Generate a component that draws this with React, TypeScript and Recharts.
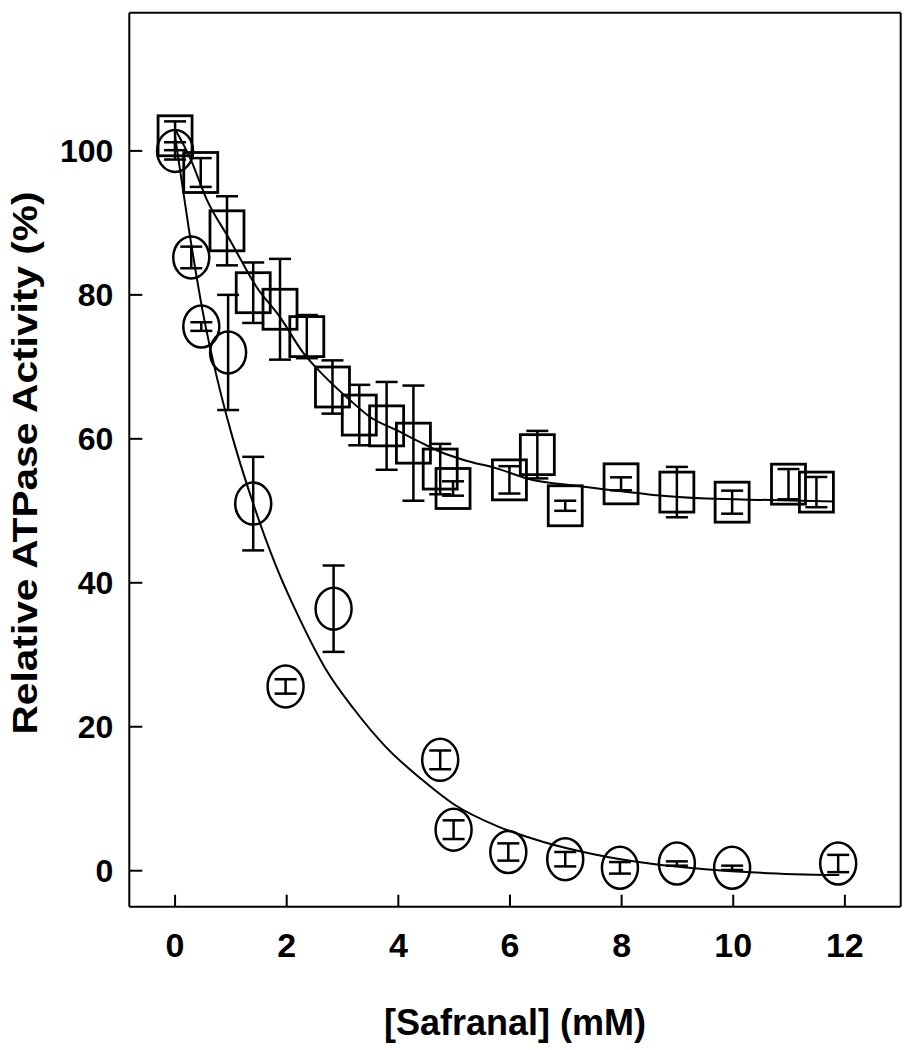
import React from 'react';
import { ComposedChart, XAxis, YAxis, Line, Scatter, ErrorBar } from 'recharts';

// Circles (lower curve)
const circleX = [0, 0.29, 0.47, 0.95, 1.4, 1.98, 2.84, 4.75, 4.99, 5.97, 6.99, 7.97, 8.99, 9.98, 11.88];
const circleY = [100, 85.2, 75.6, 72.0, 51.0, 25.6, 36.4, 15.4, 5.7, 2.6, 1.6, 0.4, 1.0, 0.4, 1.0];
const circleErr = [1.2, 1.5, 0.6, 8, 6.5, 1, 6, 1.3, 1.3, 1.2, 1, 0.8, 0.3, 0.3, 1.2];

// Squares (upper curve)
const squareX = [0, 0.46, 0.93, 1.4, 1.88, 2.36, 2.82, 3.3, 3.79, 4.27, 4.75, 4.98, 5.99, 6.49, 6.99, 7.99, 8.99, 9.98, 10.99, 11.49];
const squareY = [102.1, 97.0, 88.9, 80.3, 78.0, 74.2, 67.2, 63.3, 61.8, 59.4, 55.8, 53.1, 54.3, 57.8, 50.7, 53.75, 52.6, 51.2, 53.7, 52.6];
const squareErr = [2, 2, 4.8, 4.2, 7, 3, 3.7, 4.2, 6.1, 8, 3.5, 1, 1.9, 3.3, 0.7, 0.9, 3.5, 1.6, 2.1, 2.1];

// Fitted curves
const lowCurveX = [0, 0.25, 0.5, 0.75, 1, 1.4, 1.8, 2.2, 2.7, 3.2, 3.8, 4.4, 5, 5.8, 6.6, 7.5, 8.5, 9.5, 10.5, 11.9];
const lowCurveY = [102, 89, 77.5, 68.5, 61, 51, 42.5, 35.5, 28, 22.5, 17, 12.8, 9.2, 6.1, 4.0, 2.3, 1.0, 0.2, -0.3, -0.6];
const highCurveX = [0, 0.27, 0.57, 0.985, 1.46, 1.88, 2.3, 2.7, 3.13, 3.5, 3.97, 4.4, 4.75, 5.2, 5.76, 6.3, 7.25, 8.0, 8.57, 9.52, 10.66, 11.8];
const highCurveY = [103, 99, 93.2, 87.6, 81.1, 76.9, 71.9, 68.5, 65.4, 63, 61.2, 59.5, 58.2, 57, 55.9, 54.5, 53.4, 52.7, 52.2, 51.7, 51.5, 51.3];

const xTicks = [0, 2, 4, 6, 8, 10, 12];
const yTicks = [0, 20, 40, 60, 80, 100];
const xDomain = [-0.82, 13];
const yDomain = [-5, 119.2];

const circles = circleX.map((x, i) => ({ x, y: circleY[i], err: circleErr[i] }));
const squares = squareX.map((x, i) => ({ x, y: squareY[i], err: squareErr[i] }));
const lowCurve = lowCurveX.map((x, i) => ({ x, y: lowCurveY[i] }));
const highCurve = highCurveX.map((x, i) => ({ x, y: highCurveY[i] }));

const FONT = "'Liberation Sans', Arial, Helvetica, sans-serif";

const PL = 129.3, PR = 900.7, PT = 12.7, PB = 906.7;
const W = 906, H = 1050;

const XTick = (props: any) => {
  const { x, y, payload } = props;
  return (
    <text x={x} y={y} dy="0.71em" textAnchor="middle" fontFamily={FONT} fontWeight="bold" fontSize={34} fill="#000">
      {payload.value}
    </text>
  );
};

const CircleShape = (props: any) => {
  const { cx, cy } = props;
  if (cx == null || cy == null) return null;
  return <ellipse cx={cx} cy={cy} rx={18} ry={21} fill="none" stroke="#000" strokeWidth={2.5} />;
};

const SquareShape = (props: any) => {
  const { cx, cy } = props;
  if (cx == null || cy == null) return null;
  return <rect x={cx - 17} y={cy - 20} width={34} height={40} fill="none" stroke="#000" strokeWidth={2.8} />;
};

export default function App() {
  return (
    <div style={{ position: 'absolute', left: 0, top: 0, width: W, height: H, background: '#fff' }}>
      <ComposedChart
        width={W}
        height={H}
        margin={{ top: PT - 10, bottom: H - PB - 60, left: PL - 60, right: W - PR - 4 }}
      >
        <XAxis
          xAxisId={0}
          type="number"
          dataKey="x"
          domain={xDomain}
          ticks={xTicks}
          allowDataOverflow
          height={60}
          orientation="bottom"
          axisLine={{ stroke: '#000', strokeWidth: 2 }}
          tickLine={{ stroke: '#000', strokeWidth: 2 }}
          tickSize={-12}
          tickMargin={38}
          tick={<XTick />}
          interval={0}
        />
        <XAxis
          xAxisId="top"
          type="number"
          dataKey="x"
          domain={xDomain}
          ticks={xTicks}
          allowDataOverflow
          height={10}
          orientation="top"
          axisLine={{ stroke: '#000', strokeWidth: 2 }}
          tickLine={{ stroke: '#000', strokeWidth: 2 }}
          tickSize={-12}
          tick={false}
          interval={0}
        />
        <YAxis
          yAxisId={0}
          type="number"
          dataKey="y"
          domain={yDomain}
          ticks={yTicks}
          allowDataOverflow
          width={60}
          orientation="left"
          axisLine={{ stroke: '#000', strokeWidth: 2 }}
          tickLine={{ stroke: '#000', strokeWidth: 2 }}
          tickSize={-13}
          tickMargin={29}
          tick={{ fontFamily: FONT, fontWeight: 'bold', fontSize: 32, fill: '#000' }}
          interval={0}
        />
        <YAxis
          yAxisId="right"
          type="number"
          dataKey="y"
          domain={yDomain}
          ticks={yTicks}
          allowDataOverflow
          width={4}
          orientation="right"
          axisLine={{ stroke: '#000', strokeWidth: 2 }}
          tickLine={{ stroke: '#000', strokeWidth: 2 }}
          tickSize={-13}
          tick={false}
          interval={0}
        />
        <Line
          data={lowCurve}
          dataKey="y"
          type="monotone"
          stroke="#000"
          strokeWidth={2}
          dot={false}
          activeDot={false}
          isAnimationActive={false}
        />
        <Line
          data={highCurve}
          dataKey="y"
          type="monotone"
          stroke="#000"
          strokeWidth={2}
          dot={false}
          activeDot={false}
          isAnimationActive={false}
          xAxisId="top"
          yAxisId="right"
        />
        <Scatter data={circles} dataKey="y" shape={<CircleShape />} isAnimationActive={false}>
          <ErrorBar dataKey="err" direction="y" width={11} stroke="#000" strokeWidth={2.5} isAnimationActive={false} />
        </Scatter>
        <Scatter data={squares} dataKey="y" shape={<SquareShape />} isAnimationActive={false}>
          <ErrorBar dataKey="err" direction="y" width={11} stroke="#000" strokeWidth={2.5} isAnimationActive={false} />
        </Scatter>
      </ComposedChart>
      <svg width={W} height={H} style={{ position: 'absolute', left: 0, top: 0, pointerEvents: 'none' }}>
        <text
          transform="translate(37, 463) rotate(-90)"
          textAnchor="middle"
          fontFamily={FONT}
          fontWeight="bold"
          fontSize={35}
          fill="#000"
          textLength={543}
          lengthAdjust="spacingAndGlyphs"
        >
          Relative ATPase Activity (%)
        </text>
        <text x={515} y={1035} textAnchor="middle" fontFamily={FONT} fontWeight="bold" fontSize={36} fill="#000">
          [Safranal] (mM)
        </text>
      </svg>
    </div>
  );
}
